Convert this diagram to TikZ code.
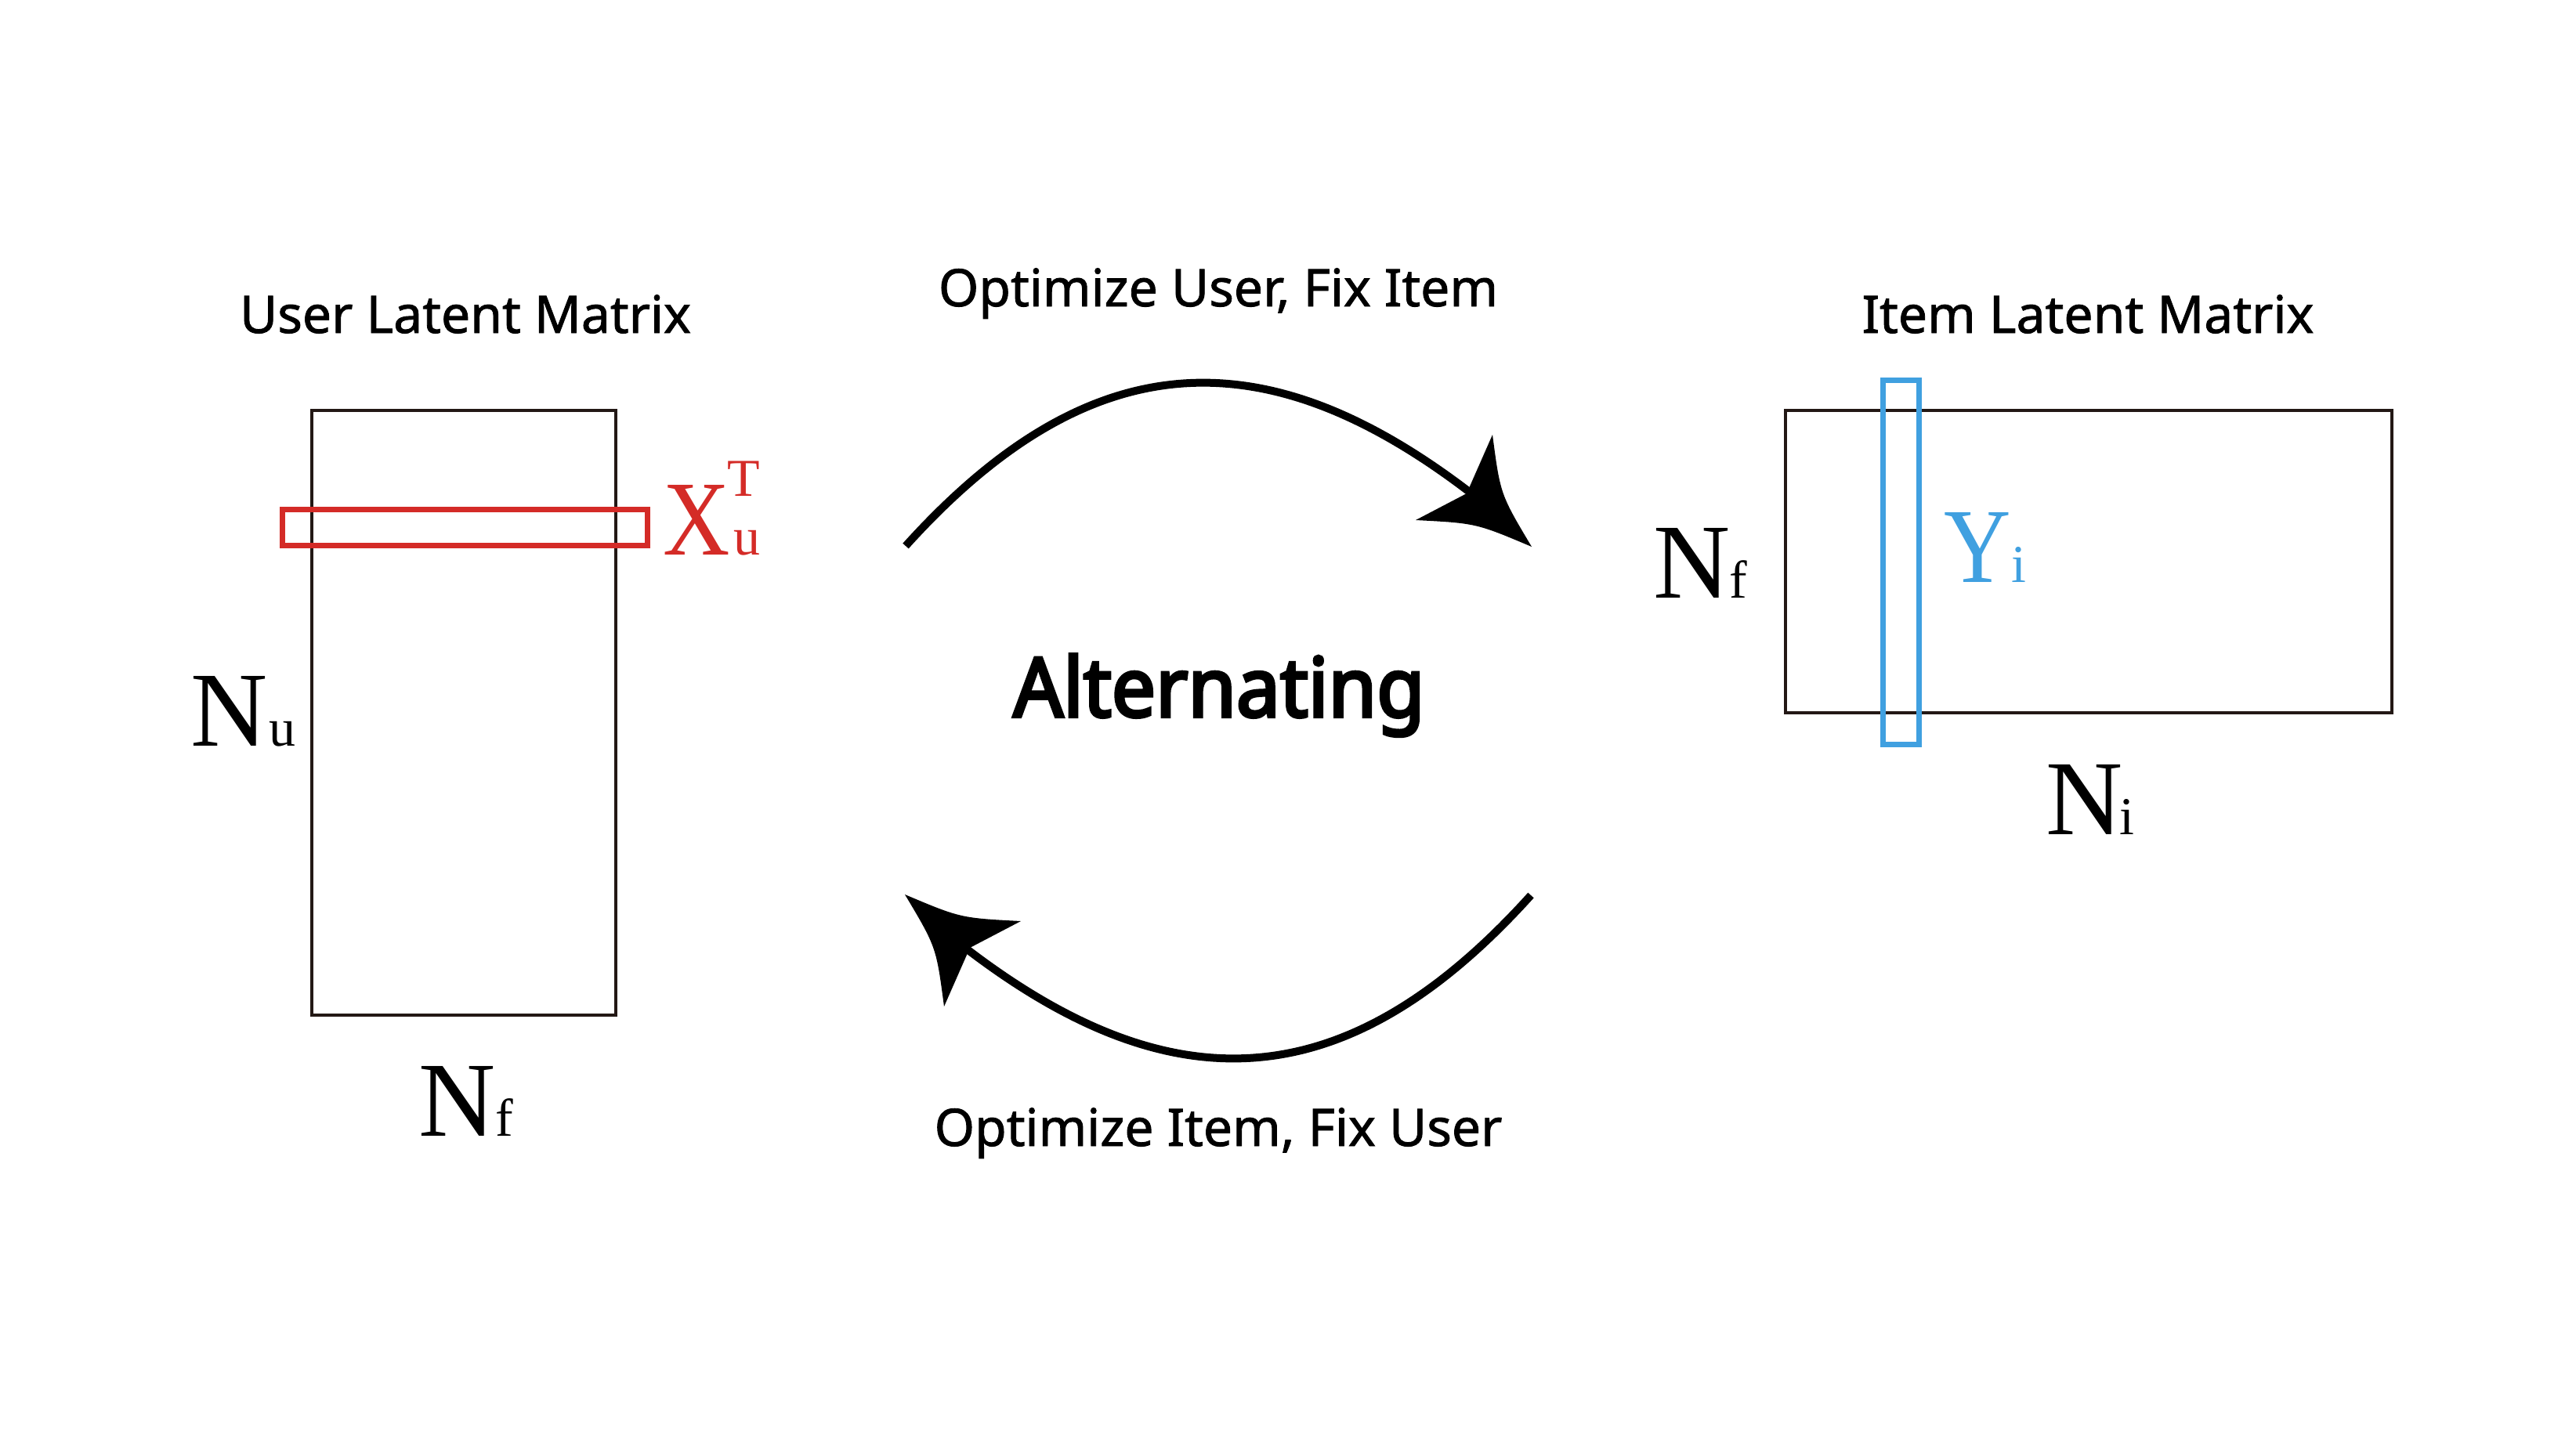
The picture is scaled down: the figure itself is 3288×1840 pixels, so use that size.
\documentclass[tikz,border=0pt]{standalone}
\usepackage{fontspec}
\setmainfont{Liberation Serif}
\newfontfamily\labfont{Noto Sans}[FakeBold=1.3]
\newfontfamily\altfont{Noto Sans}[FakeBold=3.8, FakeStretch=0.95]
\definecolor{matline}{HTML}{231815}
\definecolor{redc}{HTML}{D42B27}
\definecolor{bluec}{HTML}{40A0E0}
\newcommand\bigsz{\fontsize{136}{136}\selectfont}
\newcommand\subsz{\fontsize{68}{68}\selectfont}
\newcommand\narrowglyph[1]{\scalebox{0.87}[1]{#1}}
\tikzset{
  matbox/.style={draw=matline, line width=4pt, inner sep=0pt, outer sep=0pt},
  redbox/.style={draw=redc, line width=7pt, inner sep=0pt, outer sep=0pt},
  bluebox/.style={draw=bluec, line width=7pt, inner sep=0pt, outer sep=0pt},
  symlabel/.style={anchor=base west, inner sep=0pt},
  titletext/.style={anchor=base, inner sep=0pt, font=\labfont\fontsize{66}{66}\selectfont},
  bigtitle/.style={anchor=base, inner sep=0pt, font=\altfont\fontsize{105}{105}\selectfont},
  arrowline/.style={line width=10pt, draw=black},
  headfill/.style={fill=black, draw=none},
}
\begin{document}
\begin{tikzpicture}[x=1pt, y=-1pt]
\useasboundingbox (0,0) rectangle (3288,1840);

% titles
\node[titletext] (tU) at (594,425) {User Latent Matrix};
\node[titletext] (tI) at (2665,425) {Item Latent Matrix};
\node[titletext] (tOU) at (1555,391) {Optimize User, Fix Item};
\node[titletext] (tOI) at (1555,1463) {Optimize Item, Fix User};
\node[bigtitle] (alt) at (1556,915) {Alternating};

% user matrix
\node[matbox, minimum width=388pt, minimum height=772pt] (U) at (592,910) {};
\node[redbox, minimum width=466pt, minimum height=46pt] (xrow) at (593,673) {};
\node[symlabel, text=redc] (xl) at (846,708) {\bigsz\narrowglyph{X}\kern-3pt\subsz\rlap{\raisebox{75pt}{T}}\kern8pt u};
\node[symlabel] (nu) at (243,952) {\bigsz N\kern2pt\subsz u};
\node[symlabel] (nf) at (534,1450) {\bigsz N\kern0pt\subsz f};

% item matrix
\node[matbox, minimum width=774pt, minimum height=386pt] (I) at (2666,717) {};
\node[bluebox, minimum width=46pt, minimum height=465pt] (ycol) at (2426,717.5) {};
\node[symlabel, text=bluec] (yl) at (2481,743) {\bigsz\narrowglyph{Y}\kern1pt\subsz i};
\node[symlabel] (nf2) at (2110,763) {\bigsz N\kern-1pt\subsz f};
\node[symlabel] (ni) at (2611,1065) {\bigsz N\kern-4pt\subsz i};

% top arrow
\coordinate (a1s) at (1156,697);
\coordinate (a1e) at (1882,633);
\draw[arrowline] (a1s) .. controls (1395,432) and (1620,430) .. (a1e);
\fill[headfill] (1955,698) .. controls (1915,631) .. (1905,555) -- (1872,630) -- (1807,664) .. controls (1884,668) .. (1955,698) -- cycle;

% bottom arrow (point reflection of the top one)
\begin{scope}[rotate around={180:(1555,920)}]
\coordinate (a2s) at (1156,697);
\coordinate (a2e) at (1882,633);
\draw[arrowline] (a2s) .. controls (1395,432) and (1620,430) .. (a2e);
\fill[headfill] (1955,698) .. controls (1915,631) .. (1905,555) -- (1872,630) -- (1807,664) .. controls (1884,668) .. (1955,698) -- cycle;
\end{scope}
\end{tikzpicture}
\end{document}
